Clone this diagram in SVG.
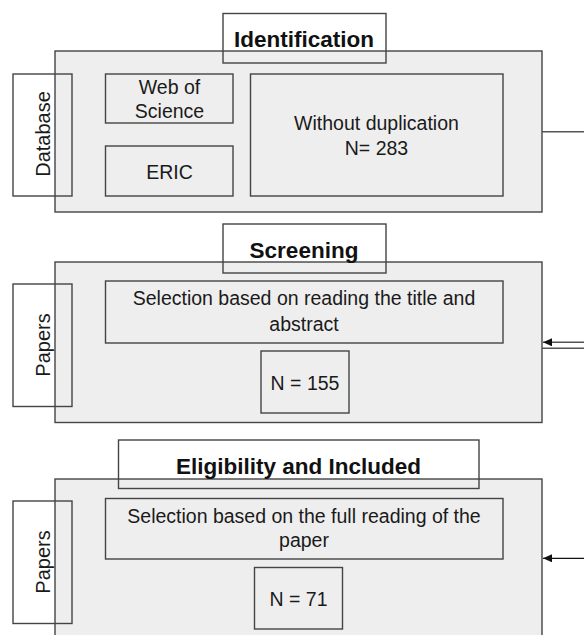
<svg xmlns="http://www.w3.org/2000/svg" width="584" height="635" viewBox="0 0 584 635">
  <style>
    .panel { fill: #eeeeee; stroke: #444444; stroke-width: 1.4; }
    .box { fill: none; stroke: #444444; stroke-width: 1.4; }
    .txt { font-family: "Liberation Sans", Arial, sans-serif; font-size: 19.5px; fill: #1a1a1a; text-anchor: middle; }
    .side { font-family: "Liberation Sans", Arial, sans-serif; font-size: 20px; fill: #1a1a1a; text-anchor: middle; }
    .title { font-family: "Liberation Sans", Arial, sans-serif; font-size: 22.5px; font-weight: bold; fill: #111111; text-anchor: middle; }
    .link { stroke: #555555; stroke-width: 1.4; fill: none; }
    .link-dark { stroke: #111111; stroke-width: 1.3; fill: none; }
  </style>
  <defs>
    <marker id="arrow" markerWidth="10" markerHeight="8" refX="9" refY="4" orient="auto" markerUnits="userSpaceOnUse">
      <path d="M0,0 L9,4 L0,8 Z" fill="#111111"/>
    </marker>
  </defs>

  <!-- Stage 1: identification -->
  <g id="panel-identification">
    <rect class="panel" x="55" y="51" width="487" height="161"/>
  </g>
  <g id="node-web-of-science">
    <rect class="box" x="105.5" y="74" width="127.5" height="49"/>
    <text class="txt" x="169.5" y="93.5">Web of</text>
    <text class="txt" x="169.5" y="117.5">Science</text>
  </g>
  <g id="node-eric">
    <rect class="box" x="105.5" y="146" width="127.5" height="50"/>
    <text class="txt" x="169.5" y="178.5">ERIC</text>
  </g>
  <g id="node-without-duplication">
    <rect class="box" x="250.5" y="74" width="252.5" height="122"/>
    <text class="txt" x="376.5" y="129.5">Without duplication</text>
    <text class="txt" x="376.5" y="154.5">N= 283</text>
  </g>
  <g id="label-database">
    <rect class="box" x="13" y="74" width="59" height="122"/>
    <text class="side" transform="translate(50 134) rotate(-90)" x="0" y="0">Database</text>
  </g>
  <g id="title-identification">
    <rect class="box" x="223" y="13.5" width="163" height="49.5"/>
    <text class="title" x="304" y="47">Identification</text>
  </g>

  <!-- Stage 2: screening -->
  <g id="panel-screening">
    <rect class="panel" x="55" y="262" width="487" height="160.5"/>
  </g>
  <g id="node-title-abstract">
    <rect class="box" x="105.5" y="281" width="397.5" height="62"/>
    <text class="txt" x="304" y="305">Selection based on reading the title and</text>
    <text class="txt" x="304" y="330.5">abstract</text>
  </g>
  <g id="node-n155">
    <rect class="box" x="261" y="351" width="88" height="62"/>
    <text class="txt" x="305" y="389.5">N = 155</text>
  </g>
  <g id="label-papers-screening">
    <rect class="box" x="13" y="284" width="59" height="122.5"/>
    <text class="side" transform="translate(50 345) rotate(-90)" x="0" y="0">Papers</text>
  </g>
  <g id="title-screening">
    <rect class="box" x="223" y="224" width="163" height="49"/>
    <text class="title" x="304" y="257.5">Screening</text>
  </g>

  <!-- Stage 3: eligibility and inclusion -->
  <g id="panel-eligibility">
    <rect class="panel" x="55" y="479" width="487" height="170"/>
  </g>
  <g id="node-full-reading">
    <rect class="box" x="105.5" y="498.5" width="397.5" height="60.5"/>
    <text class="txt" x="304" y="522.5">Selection based on the full reading of the</text>
    <text class="txt" x="304" y="547">paper</text>
  </g>
  <g id="node-n71">
    <rect class="box" x="254.5" y="567.5" width="88" height="61.5"/>
    <text class="txt" x="298.5" y="606">N = 71</text>
  </g>
  <g id="label-papers-eligibility">
    <rect class="box" x="13" y="501" width="59" height="122.5"/>
    <text class="side" transform="translate(50 562) rotate(-90)" x="0" y="0">Papers</text>
  </g>
  <g id="title-eligibility">
    <rect class="box" x="118.5" y="440" width="360.5" height="48.5"/>
    <text class="title" x="298.5" y="473.5">Eligibility and Included</text>
  </g>

  <!-- Connectors running off the right edge -->
  <g id="connectors">
    <line class="link" x1="542" y1="131.8" x2="584" y2="131.8"/>
    <line class="link" x1="584" y1="342.3" x2="543" y2="342.3" marker-end="url(#arrow)"/>
    <line class="link" x1="542" y1="348.3" x2="584" y2="348.3"/>
    <line class="link-dark" x1="584" y1="558.3" x2="543" y2="558.3" marker-end="url(#arrow)"/>
  </g>
</svg>
